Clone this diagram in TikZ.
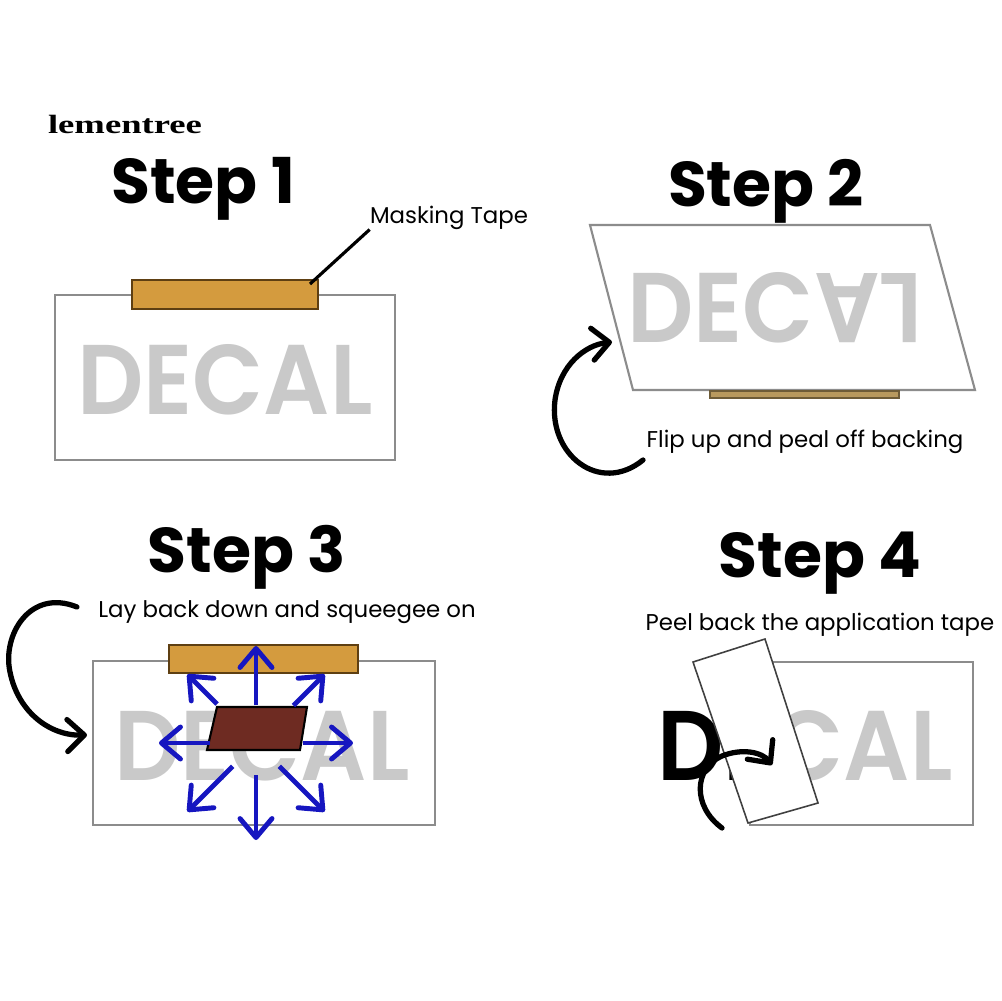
\documentclass[tikz,border=0pt]{standalone}
\usepackage{fontspec}
\usepackage{graphicx}
\usetikzlibrary{arrows.meta,calc}
\newfontfamily\gothic{Poppins}
\newfontfamily\decalfont{Poppins}[UprightFont={* SemiBold}]
\newfontfamily\wmserif{Liberation Serif}
\definecolor{sheetgrey}{HTML}{8C8C8C}
\definecolor{decalgrey}{HTML}{C9C9C9}
\definecolor{tapeorange}{HTML}{D49B3E}
\definecolor{tapekhaki}{HTML}{B8995E}
\definecolor{tapeedge}{HTML}{5E3F12}
\definecolor{patchbrown}{HTML}{6E2B22}
\definecolor{pushblue}{HTML}{1616C0}
\newcommand{\decalword}[1]{\resizebox{5.9cm}{1.4cm}{\decalfont #1}}

\begin{document}
\begin{tikzpicture}[x=0.02cm, y=-0.02cm,
  steptitle/.style={font=\gothic\bfseries\fontsize{36}{40}\selectfont, inner sep=0pt, anchor=base},
  note/.style={font=\gothic\fontsize{13}{15}\selectfont, inner sep=0pt, anchor=base},
  decal/.style={text=decalgrey, inner sep=0pt},
  sheet/.style={draw=sheetgrey, line width=1.2pt},
  tapebox/.style={fill=#1, draw=tapeedge, line width=1.2pt},
  curl/.style={-{Straight Barb[length=3.4mm, width=6.4mm, round]}, line width=3pt, line cap=round},
  push/.style={-{Straight Barb[length=3.8mm, width=6.4mm, round]}, line width=2.8pt, pushblue}
]
  \useasboundingbox[fill=white] (0,0) rectangle (1001,1001);

  \node[font=\wmserif\bfseries\fontsize{15}{17}\selectfont, inner sep=0pt] (brand) at (125,124) {\scalebox{1.39}[1]{lementree}};

  % step 1
  \node[steptitle] (title1) at (203,203) {Step 1};
  \draw[sheet] (55,295) rectangle (395,460);
  \node[decal] (decal1) at (225,380) {\decalword{DECAL}};
  \draw[tapebox=tapeorange] (132,280) rectangle (318,309);
  \node[note] (masklbl) at (449,223) {Masking Tape};
  \coordinate (lead1) at (310,284);
  \draw[line width=1.8pt] (lead1) -- (masklbl.south west);

  % step 2
  \node[steptitle] (title2) at (766,206) {Step 2};
  \draw[sheet] (590,225) -- (930,225) -- (975,390) -- (633,390) -- cycle;
  \node[decal] (decal2) at (775,308) {\decalword{DEC\rotatebox[origin=c]{180}{A}\rotatebox[origin=c]{180}{L}}};
  \draw[tapebox=tapekhaki, draw=tapekhaki!60!black, line width=0.8pt] (710,391) rectangle (899,398);
  \node[note] (fliplbl) at (805,447) {Flip up and peal off backing};
  \coordinate (flipA) at (643,460);
  \coordinate (flipB) at (612,342);
  \draw[curl] (flipA) .. controls (600,495) and (548,455) .. (555,400) .. controls (560,365) and (585,345) .. (flipB);

  % step 3
  \node[steptitle] (title3) at (247,572) {Step 3};
  \node[note] (laylbl) at (287,617) {Lay back down and squeegee on};
  \draw[sheet] (93,661) rectangle (435,825);
  \node[decal] (decal3) at (262,746) {\decalword{DECAL}};
  \draw[tapebox=tapeorange] (169,645) rectangle (358,673);
  \draw[fill=patchbrown, draw=black, line width=1.2pt] (217,707) -- (307,707) -- (300,750) -- (207,750) -- cycle;
  \coordinate (burst) at (256,743);
  \foreach \a/\r in {-90/38,-45/53,0/47,45/33,90/32,135/33,180/46,225/55}
    \draw[push] ($(burst)+(\a:\r)$) -- ($(burst)+(\a:97)$);
  \coordinate (layA) at (77,607);
  \coordinate (layB) at (87,735);
  \draw[curl] (layA) .. controls (30,588) and (2,635) .. (10,672) .. controls (18,712) and (50,736) .. (layB);

  % step 4
  \node[steptitle] (title4) at (820,577) {Step 4};
  \node[note] (peellbl) at (820,630) {Peel back the application tape};
  \draw[sheet] (750,662) rectangle (973,825);
  \node[decal] (decal4) at (805,746) {\decalword{\textcolor{black}{DE}CAL}};
  \draw[fill=white, draw=black!75, line width=0.9pt] (693,662) -- (765,639) -- (818,803) -- (748,823) -- cycle;
  \coordinate (peelA) at (722,828);
  \coordinate (peelB) at (772,765);
  \draw[curl] (peelA) .. controls (692,806) and (694,768) .. (722,756) .. controls (742,748) and (762,752) .. (peelB);
\end{tikzpicture}
\end{document}
